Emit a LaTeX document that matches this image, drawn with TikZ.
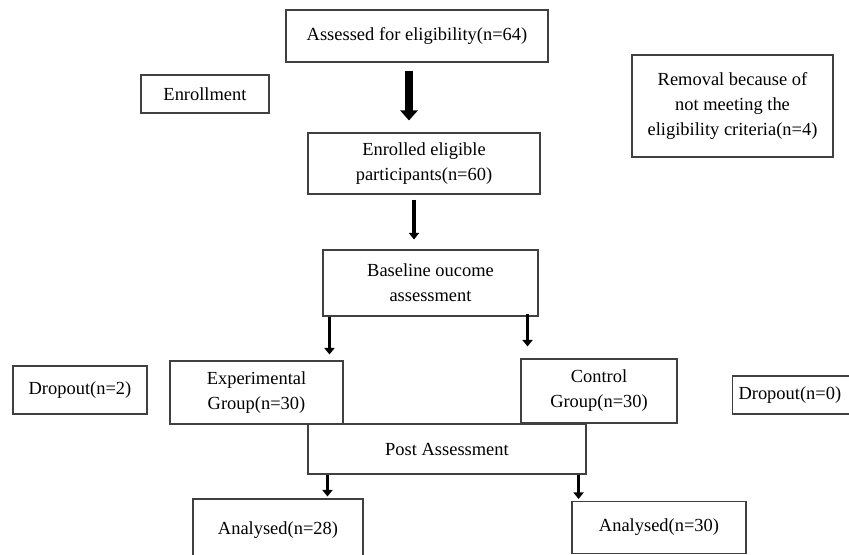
\documentclass[tikz,border=0pt]{standalone}
\usepackage{fontspec}
\setmainfont{Liberation Serif}
\usetikzlibrary{arrows.meta}
\begin{document}
\begin{tikzpicture}[
    box/.style={draw=black!75, line width=0.6pt, align=center, inner sep=2pt,
      font=\fontsize{10.5}{14.2}\selectfont},
    arr/.style={line width=2.2pt, -{Triangle[length=0.13cm,width=0.2cm]}},
    bigarr/.style={line width=4.5pt, -{Triangle[length=0.2cm,width=0.34cm]}}]
      \useasboundingbox (0,0) rectangle (16.98,-11.08);
      \clip (0,0) rectangle (16.98,-11.08);
      \node[box, minimum width=5.24cm, minimum height=1.04cm] (assess) at (8.34,-0.72) {Assessed for eligibility(n=64)};
      \node[box, minimum width=2.56cm, minimum height=0.76cm] (enrollment) at (4.10,-1.88) {Enrollment};
      \node[box, minimum width=4.02cm, minimum height=2.04cm] (removal) at (14.65,-2.12) {Removal because of\\not meeting the\\eligibility criteria(n=4)};
      \node[box, minimum width=4.64cm, minimum height=1.22cm] (eligible) at (8.48,-3.27) {Enrolled eligible\\participants(n=60)};
      \node[box, minimum width=4.30cm, minimum height=1.32cm] (baseline) at (8.61,-5.66) {Baseline oucome\\assessment};
      \node[box, minimum width=3.46cm, minimum height=1.26cm] (expgroup) at (5.13,-7.85) {Experimental\\Group(n=30)};
      \node[box, minimum width=3.12cm, minimum height=1.28cm] (ctrlgroup) at (11.98,-7.82) {Control\\Group(n=30)};
      \node[box, minimum width=2.68cm, minimum height=0.96cm] (dropexp) at (1.60,-7.80) {Dropout(n=2)};
      \node[box, anchor=west, text width=2.4cm, align=left, inner xsep=0.12cm, minimum height=0.76cm] (dropctrl) at (14.64,-7.90) {Dropout(n=0)};
      \node[box, minimum width=5.56cm, minimum height=1.00cm] (post) at (8.94,-8.98) {Post Assessment};
      \node[box, minimum width=3.40cm, minimum height=1.24cm] (analysedexp) at (5.56,-10.60) {Analysed(n=28)};
      \node[box, minimum width=3.48cm, minimum height=1.04cm] (analysedctrl) at (13.18,-10.55) {Analysed(n=30)};
      \draw[bigarr, shorten <=0.16cm, shorten >=0.24cm] ([xshift=-0.16cm]assess.south) -- ([xshift=-0.16cm]assess.south |- eligible.north);
      \draw[arr, shorten <=0.1cm, shorten >=0.2cm] ([xshift=-0.2cm]eligible.south) -- ([xshift=-0.2cm]eligible.south |- baseline.north);
      \draw[arr, shorten >=0.12cm] ([xshift=0.14cm]baseline.south west) -- ([xshift=0.14cm]baseline.south west |- expgroup.north);
      \draw[arr, shorten <=-0.06cm, shorten >=0.24cm] ([xshift=-0.22cm]baseline.south east) -- ([xshift=-0.22cm]baseline.south east |- ctrlgroup.north);
      \draw[arr, shorten >=0.04cm] ([xshift=0.4cm]post.south west) -- ([xshift=0.4cm]post.south west |- analysedexp.north);
      \draw[arr, shorten >=0.04cm] ([xshift=-0.16cm]post.south east) -- ([xshift=-0.16cm]post.south east |- analysedctrl.north);
    \end{tikzpicture}
\end{document}
